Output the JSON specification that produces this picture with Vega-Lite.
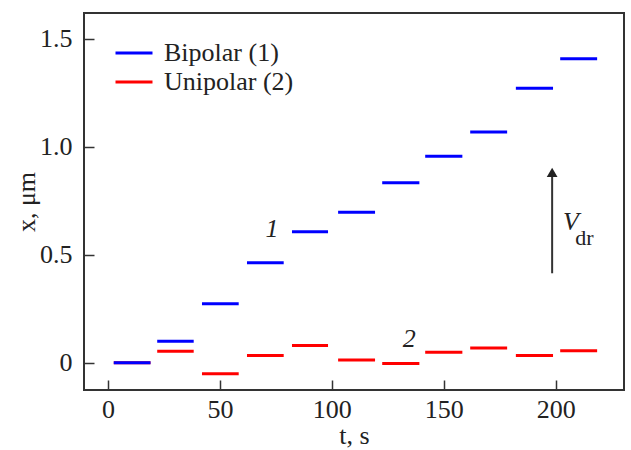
{
  "$schema": "https://vega.github.io/schema/vega-lite/v6.json",
  "width": 540,
  "height": 377,
  "autosize": "none",
  "padding": {"left": 84, "top": 13, "right": 7, "bottom": 60},
  "background": "white",
  "config": {
    "font": "Liberation Serif, serif",
    "view": {"stroke": "#333333", "strokeWidth": 2},
    "axis": {"grid": false, "domain": false, "tickColor": "#333333", "tickWidth": 1.5, "labelFont": "Liberation Serif, serif", "labelFontSize": 26, "labelColor": "#222222", "titleFont": "Liberation Serif, serif", "titleFontSize": 26, "titleFontWeight": "normal", "titleColor": "#222222"}
  },
  "datasets": {
    "steps": [
      {"series": "Unipolar (2)", "t0": 2.6, "t1": 19, "x": 0},
      {"series": "Unipolar (2)", "t0": 22, "t1": 38.3, "x": 0.053},
      {"series": "Unipolar (2)", "t0": 42, "t1": 58.4, "x": -0.051},
      {"series": "Unipolar (2)", "t0": 62.1, "t1": 78.5, "x": 0.034},
      {"series": "Unipolar (2)", "t0": 82.2, "t1": 98.3, "x": 0.08},
      {"series": "Unipolar (2)", "t0": 102.8, "t1": 119.3, "x": 0.0125},
      {"series": "Unipolar (2)", "t0": 122.5, "t1": 139.1, "x": -0.003},
      {"series": "Unipolar (2)", "t0": 141.7, "t1": 158.3, "x": 0.049},
      {"series": "Unipolar (2)", "t0": 161.8, "t1": 178.3, "x": 0.068},
      {"series": "Unipolar (2)", "t0": 182.2, "t1": 198.8, "x": 0.034},
      {"series": "Unipolar (2)", "t0": 202, "t1": 218.5, "x": 0.056},
      {"series": "Bipolar (1)", "t0": 2.6, "t1": 19, "x": 0},
      {"series": "Bipolar (1)", "t0": 22, "t1": 38.3, "x": 0.099},
      {"series": "Bipolar (1)", "t0": 42, "t1": 58.4, "x": 0.273},
      {"series": "Bipolar (1)", "t0": 62.1, "t1": 78.5, "x": 0.463},
      {"series": "Bipolar (1)", "t0": 82.2, "t1": 98.3, "x": 0.606},
      {"series": "Bipolar (1)", "t0": 102.8, "t1": 119.3, "x": 0.696},
      {"series": "Bipolar (1)", "t0": 122.5, "t1": 139.1, "x": 0.833},
      {"series": "Bipolar (1)", "t0": 141.7, "t1": 158.3, "x": 0.955},
      {"series": "Bipolar (1)", "t0": 161.8, "t1": 178.3, "x": 1.067},
      {"series": "Bipolar (1)", "t0": 182.2, "t1": 198.8, "x": 1.27},
      {"series": "Bipolar (1)", "t0": 202, "t1": 218.5, "x": 1.406}
    ],
    "italicLabels": [
      {"t": 73.3, "x": 0.583, "label": "1"},
      {"t": 134.6, "x": 0.074, "label": "2"},
      {"t": 206.8, "x": 0.614, "label": "V"}
    ],
    "subLabels": [
      {"t": 208.7, "x": 0.545, "label": "dr"}
    ],
    "arrowShaft": [{"t": 198.4, "x0": 0.414, "x1": 0.87}],
    "arrowHead": [{"t": 198.4, "x": 0.881}]
  },
  "layer": [
    {
      "data": {"name": "steps"},
      "mark": {"type": "rule", "strokeWidth": 3},
      "encoding": {
        "x": {"field": "t0", "type": "quantitative", "scale": {"domain": [-10.7, 230.5], "nice": false, "zero": false},
          "axis": {"values": [0, 50, 100, 150, 200], "tickSize": -10, "labelPadding": 16, "title": "t, s", "titlePadding": 0}},
        "x2": {"field": "t1"},
        "y": {"field": "x", "type": "quantitative", "scale": {"domain": [-0.126, 1.618], "nice": false, "zero": false},
          "axis": {"values": [0, 0.5, 1, 1.5], "tickSize": -10, "labelPadding": 22, "labelExpr": "datum.value == 0 ? '0' : format(datum.value, '.1f')", "title": "x, μm", "titlePadding": 0}},
        "color": {"field": "series", "type": "nominal",
          "scale": {"domain": ["Bipolar (1)", "Unipolar (2)"], "range": ["#0000ff", "#ff0000"]},
          "legend": {"orient": "none", "legendX": 37, "legendY": 27, "title": null, "symbolType": "M-2,0H2", "symbolSize": 342, "symbolStrokeWidth": 3, "labelFont": "Liberation Serif, serif", "labelFontSize": 26, "labelColor": "#222222", "labelOffset": 17, "rowPadding": 3, "padding": 0, "offset": 0}
        }
      }
    },
    {
      "data": {"name": "arrowShaft"},
      "mark": {"type": "rule", "color": "#333333", "strokeWidth": 2},
      "encoding": {"x": {"field": "t", "type": "quantitative"}, "y": {"field": "x0", "type": "quantitative"}, "y2": {"field": "x1"}}
    },
    {
      "data": {"name": "arrowHead"},
      "mark": {"type": "point", "shape": "triangle-up", "filled": true, "color": "#222222", "size": 115, "opacity": 1},
      "encoding": {"x": {"field": "t", "type": "quantitative"}, "y": {"field": "x", "type": "quantitative"}}
    },
    {
      "data": {"name": "italicLabels"},
      "mark": {"type": "text", "font": "Liberation Serif, serif", "fontStyle": "italic", "fontSize": 26, "align": "center", "baseline": "alphabetic", "color": "#222222"},
      "encoding": {"x": {"field": "t", "type": "quantitative"}, "y": {"field": "x", "type": "quantitative"}, "text": {"field": "label"}}
    },
    {
      "data": {"name": "subLabels"},
      "mark": {"type": "text", "font": "Liberation Serif, serif", "fontSize": 22, "align": "left", "baseline": "alphabetic", "color": "#222222"},
      "encoding": {"x": {"field": "t", "type": "quantitative"}, "y": {"field": "x", "type": "quantitative"}, "text": {"field": "label"}}
    }
  ]
}
